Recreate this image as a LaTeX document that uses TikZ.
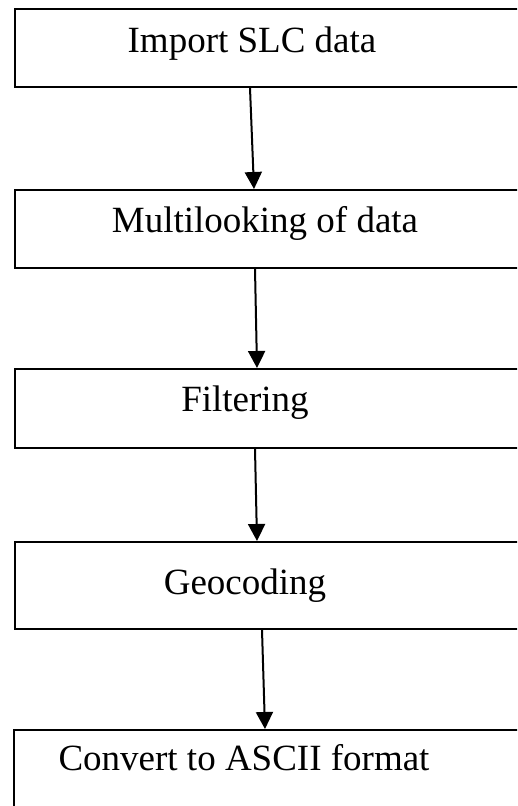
\documentclass[tikz,border=0pt]{standalone}
\usepackage{fontspec}
\setmainfont{Liberation Serif}
\usetikzlibrary{arrows.meta}
\begin{document}
\begin{tikzpicture}[x=1pt,y=-1pt,
  box/.style={draw=black, line width=2pt, fill=none, inner sep=0pt, anchor=north west, minimum width=560pt},
  lbl/.style={anchor=base, inner sep=0pt, font=\fontsize{37}{44}\selectfont},
  conn/.style={line width=2pt, -{Triangle[width=17pt,length=17pt]}}]
\useasboundingbox (0,0) rectangle (517,806);
\clip (0,0) rectangle (517,806);
\node[box, minimum height=78pt] (b1) at (14,8) {};
\node[box, minimum height=78pt] (b2) at (14,189) {};
\node[box, minimum height=79pt] (b3) at (14,368) {};
\node[box, minimum height=87pt] (b4) at (14,541) {};
\node[box, minimum height=110pt] (b5) at (13,729) {};
\node[lbl] (t1) at (252,52) {Import SLC data};
\node[lbl] (t2) at (265,232) {Multilooking of data};
\node[lbl] (t3) at (245,411) {Filtering};
\node[lbl] (t4) at (245,594) {Geocoding};
\node[lbl] (t5) at (244,770) {Convert to ASCII format};
\draw[conn] (b1.south west -| 250,0) -- (b2.north west -| 254,0);
\draw[conn] (b2.south west -| 255,0) -- (b3.north west -| 257,0);
\draw[conn] (b3.south west -| 255,0) -- (b4.north west -| 257,0);
\draw[conn] (b4.south west -| 262,0) -- (b5.north west -| 265,0);
\end{tikzpicture}
\end{document}
